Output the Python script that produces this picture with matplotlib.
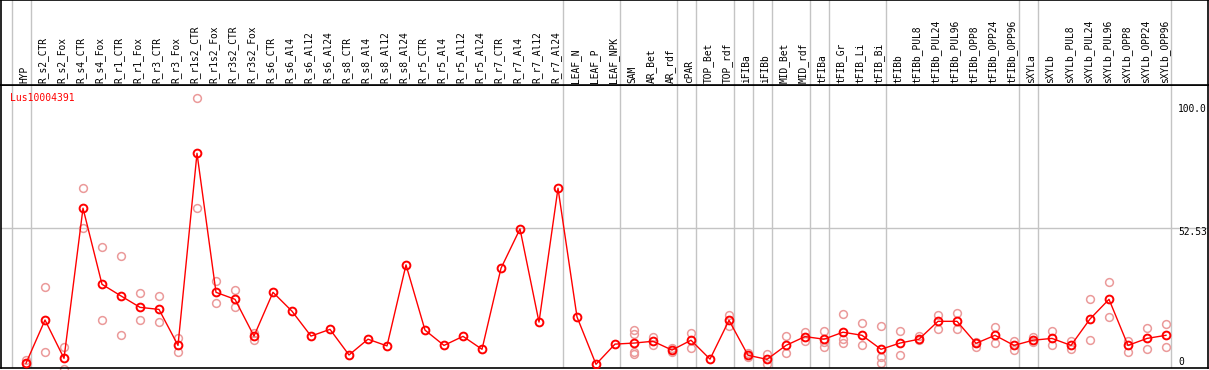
import matplotlib
matplotlib.use("Agg")
import matplotlib.pyplot as plt
from matplotlib.transforms import offset_copy

# sample columns
samples = ["HYP", "R_s2_CTR", "R_s2_Fox", "R_s4_CTR", "R_s4_Fox", "R_r1_CTR", "R_r1_Fox",
           "R_r3_CTR", "R_r3_Fox", "R_r1s2_CTR", "R_r1s2_Fox", "R_r3s2_CTR", "R_r3s2_Fox",
           "R_s6_CTR", "R_s6_Al4", "R_s6_Al12", "R_s6_Al24", "R_s8_CTR", "R_s8_Al4",
           "R_s8_Al12", "R_s8_Al24", "R_r5_CTR", "R_r5_Al4", "R_r5_Al12", "R_r5_Al24",
           "R_r7_CTR", "R_r7_Al4", "R_r7_Al12", "R_r7_Al24", "LEAF_N", "LEAF_P", "LEAF_NPK",
           "SAM", "AR_Bet", "AR_rdf", "cPAR", "TOP_Bet", "TOP_rdf", "iFIBa", "iFIBb",
           "MID_Bet", "MID_rdf", "tFIBa", "tFIB_Gr", "tFIB_Li", "tFIB_Bi", "tFIBb",
           "tFIBb_PUL8", "tFIBb_PUL24", "tFIBb_PUL96", "tFIBb_OPP8", "tFIBb_OPP24",
           "tFIBb_OPP96", "sXYLa", "sXYLb", "sXYLb_PUL8", "sXYLb_PUL24", "sXYLb_PUL96",
           "sXYLb_OPP8", "sXYLb_OPP24", "sXYLb_OPP96"]

# mean expression per column
means = [0.4, 17.1, 2.3, 60.3, 30.9, 26.4, 22.0, 21.2, 7.3, 81.5, 27.8, 25.1, 10.9,
         27.8, 20.5, 10.9, 13.5, 3.6, 9.7, 7.1, 38.4, 13.2, 7.3, 10.8, 5.8,
         37.1, 52.3, 16.3, 68.0, 18.3, 0.0, 7.8,
         8.2, 8.9, 5.5, 9.3, 2.0, 17.0, 3.5, 1.9, 7.3, 10.7, 9.7, 12.4, 11.2, 5.8, 8.2,
         9.7, 16.6, 16.6, 8.1, 11.2, 7.3, 9.3, 10.0, 7.3, 17.5, 25.1, 7.3, 10.0, 11.2]

# replicate values per column (empty = not shown)
reps = [[1.5, 0.0], [29.7, 4.6], [6.8, -1.9], [68.0, 52.5], [45.2, 17.0], [41.7, 11.2],
        [27.4, 17.0], [26.3, 16.2], [10.0, 4.6], [102.7, 60.3], [32.1, 23.6], [28.6, 22.0],
        [12.0, 9.4],
        [], [], [], [], [], [], [], [], [], [], [], [], [], [], [], [], [], [], [],
        [13.2, 11.7, 4.9, 3.9], [10.4, 7.3], [6.4, 4.6], [12.0, 6.3], [], [18.9, 14.9],
        [4.2, 2.9], [3.9, 0.0], [10.8, 4.2], [12.5, 8.9], [12.9, 8.6, 6.7],
        [19.3, 9.7, 8.1], [15.8, 7.3], [14.7, 2.9, 0.4], [12.9, 3.5],
        [10.9, 9.4], [18.9, 13.8], [19.7, 13.5], [8.7, 6.6], [14.3, 8.3], [9.1, 5.5],
        [10.5, 8.7], [12.9, 7.3], [9.1, 5.8], [25.1, 9.3], [31.7, 18.2], [9.1, 4.9],
        [13.9, 5.8], [15.6, 6.6]]

# group separators drawn after these columns
group_ends = [-1, 0, 28, 31, 34, 35, 37, 38, 39, 41, 42, 45, 52, 53, 60]

ticks = [0, 52.53, 100.0]
tick_labels = ["0", "52.53", "100.0"]
gene = "Lus10004391"

W, H = 1209, 370
fig = plt.figure(figsize=(W / 100, H / 100), dpi=100)


def px_rect(x0, y0, x1, y1):
    return [x0 / W, 1 - y1 / H, (x1 - x0) / W, (y1 - y0) / H]


ax = fig.add_axes(px_rect(1, 85, 1208, 368))
hd = fig.add_axes(px_rect(1, 0, 1208, 85))

xlim = ((1 - 26) / 19, (1208 - 26) / 19)
for a in (ax, hd):
    a.set_xlim(xlim)
    a.set_xticks([])
    a.set_yticks([])
    for s in a.spines.values():
        s.set_color("black")
        s.set_linewidth(1.2)
    for g in group_ends:
        a.axvline(g + 0.25, color="#c4c4c4", lw=1.0, zorder=0)

ax.set_ylim((364.3 - 368) / 2.589, (364.3 - 85) / 2.589)
hd.set_ylim(0, 85)

ax.axhline(52.53, color="#c4c4c4", lw=1.0, zorder=0)

mono = "DejaVu Sans Mono"

# replicate points
rx, ry = [], []
for i, r in enumerate(reps):
    for v in r:
        rx.append(i)
        ry.append(v)
ax.plot(rx, ry, "o", ms=5.6, mfc="none", mec="#eb9a9a", mew=1.1, zorder=2, clip_on=False)

xs = list(range(len(samples)))
ax.plot(xs, means, "-", color="red", lw=1.0, zorder=3)
ax.plot(xs, means, "o", ms=5.6, mfc="none", mec="red", mew=1.4, zorder=4)

ax.text(9 / 1207, 1 - (97.5 - 85) / 283, gene, transform=ax.transAxes, color="red",
        fontsize=7, family=mono, va="center", ha="left")

# right-side scale labels
for t, lab in zip(ticks, tick_labels):
    dy = -3.5
    if t == 0:
        dy = 2.0
    tr = offset_copy(ax.transData, fig=fig, x=0, y=dy * 0.72, units="points")
    ax.text((1178 - 26) / 19, t, lab, transform=tr, fontsize=6.9, family=mono,
            va="center", ha="left", color="black", clip_on=True)

# column labels
for i, name in enumerate(samples):
    hd.text(i - 0.09, 2.3, name, rotation=90, ha="center", va="bottom",
            fontsize=6.9, family=mono, color="black")

fig.savefig("out.png", dpi=100)
plt.close(fig)
